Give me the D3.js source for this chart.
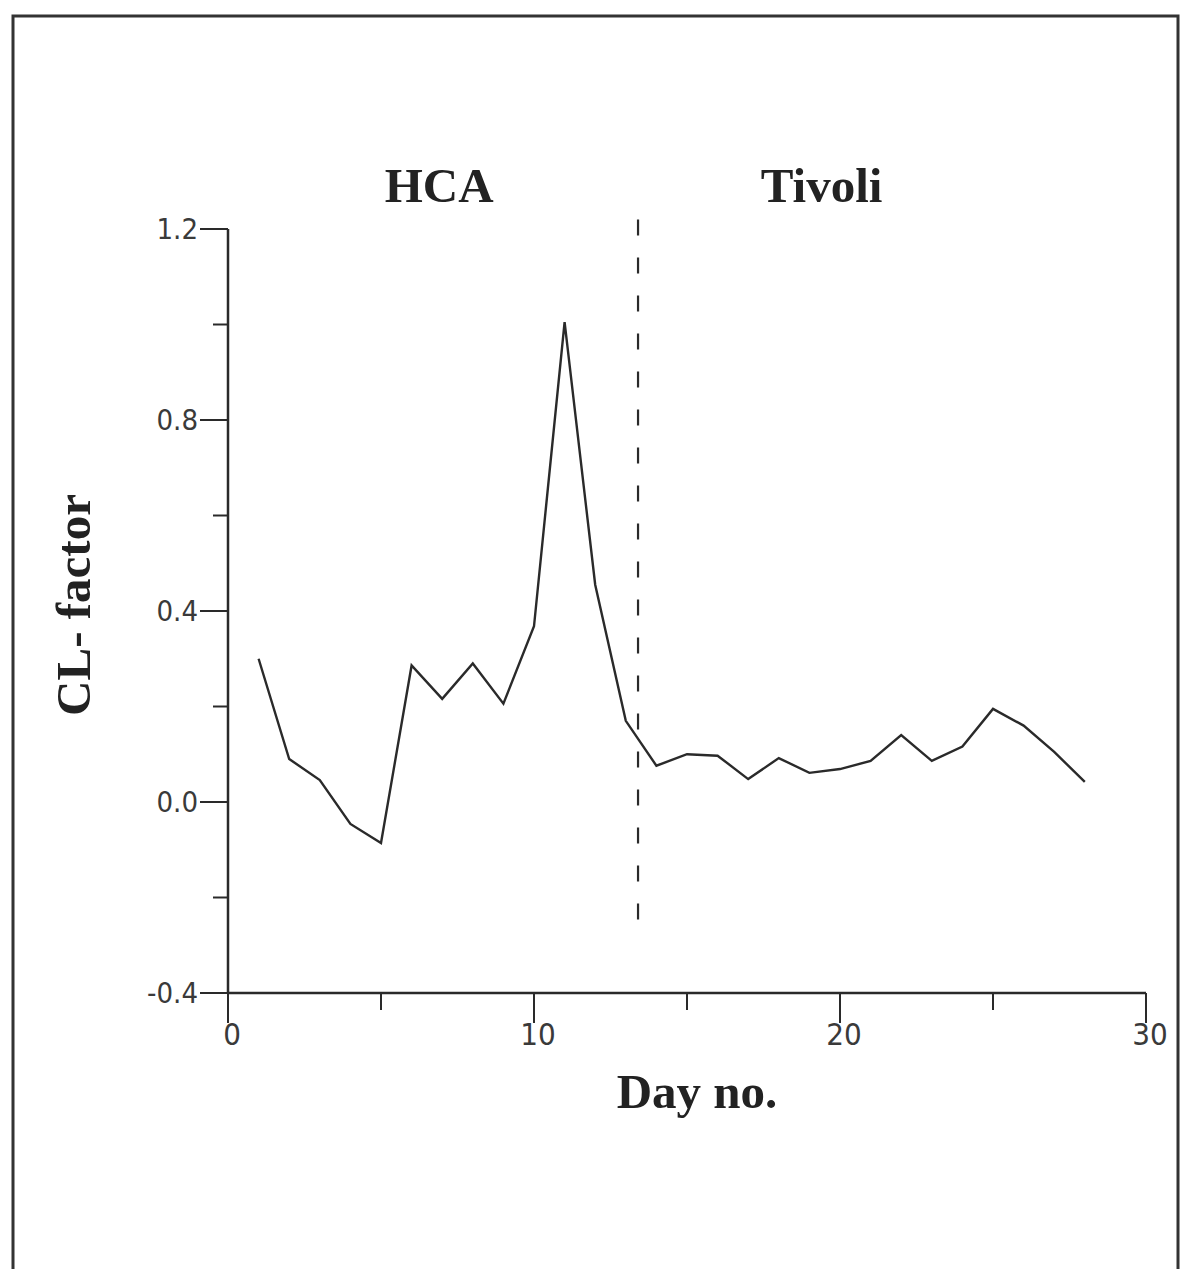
<!DOCTYPE html>
<html>
<head>
<meta charset="utf-8">
<script src="https://cdn.jsdelivr.net/npm/d3@7/dist/d3.min.js"></script>
<style>
  body { margin: 0; background: #fff; }
  .tick-label { font-family: "Liberation Sans Narrow", "DejaVu Sans Condensed", sans-serif; font-stretch: condensed; font-weight: normal; fill: #3a3a3a; }
  .title { font-family: "Liberation Serif", "Times New Roman", serif; font-weight: bold; fill: #222; }
</style>
</head>
<body>
<script>
var width = 1191;
var height = 1269;

// values
var days = d3.range(1, 29);
var clFactor = [0.30, 0.09, 0.046, -0.046, -0.086, 0.286, 0.216, 0.29, 0.206, 0.368,
                1.005, 0.455, 0.17, 0.076, 0.10, 0.097, 0.048, 0.092, 0.061, 0.069,
                0.086, 0.14, 0.086, 0.116, 0.195, 0.16, 0.105, 0.042];
var yTicks = [-0.4, -0.2, 0.0, 0.2, 0.4, 0.6, 0.8, 1.0, 1.2];
var yLabels = [-0.4, 0.0, 0.4, 0.8, 1.2];
var xTicks = [0, 5, 10, 15, 20, 25, 30];
var xLabels = [0, 10, 20, 30];
var splitDay = 13.4;
var splitRange = [-0.26, 1.22];
var groups = ["HCA", "Tivoli"];
var groupX = [6.9, 19.4];

var x = d3.scaleLinear().domain([0, 30]).range([228, 1146]);
var y = d3.scaleLinear().domain([-0.4, 1.2]).range([993, 229]);

var svg = d3.select("body").append("svg")
    .attr("width", width)
    .attr("height", height);

// scanned page border
svg.append("rect")
    .attr("x", 13).attr("y", 16)
    .attr("width", 1165).attr("height", 1260)
    .attr("fill", "none")
    .attr("stroke", "#333")
    .attr("stroke-width", 3);

var ink = "#2a2a2a";

// y axis
var yAxis = svg.append("g").attr("stroke", ink);
yAxis.append("line")
    .attr("x1", x(0)).attr("x2", x(0))
    .attr("y1", y(1.2)).attr("y2", y(-0.4))
    .attr("stroke-width", 2.5);
yTicks.forEach(function(t) {
    var major = yLabels.some(function(l) { return Math.abs(l - t) < 1e-9; });
    yAxis.append("line")
        .attr("x1", x(0) - (major ? 28 : 15)).attr("x2", x(0))
        .attr("y1", y(t)).attr("y2", y(t))
        .attr("stroke-width", 2);
});
svg.selectAll(".ylab").data(yLabels).enter().append("text")
    .attr("class", "tick-label")
    .attr("x", x(0) - 30)
    .attr("y", function(d) { return y(d); })
    .attr("dy", "0.36em")
    .attr("text-anchor", "end")
    .attr("font-size", 29)
    .text(function(d) { return d.toFixed(1); });

// x axis
var xAxis = svg.append("g").attr("stroke", ink);
xAxis.append("line")
    .attr("x1", x(0)).attr("x2", x(30))
    .attr("y1", y(-0.4)).attr("y2", y(-0.4))
    .attr("stroke-width", 2.5);
xTicks.forEach(function(t) {
    var major = xLabels.indexOf(t) >= 0;
    xAxis.append("line")
        .attr("x1", x(t)).attr("x2", x(t))
        .attr("y1", y(-0.4)).attr("y2", y(-0.4) + (major ? 30 : 17))
        .attr("stroke-width", 2);
});
svg.selectAll(".xlab").data(xLabels).enter().append("text")
    .attr("class", "tick-label")
    .attr("x", function(d) { return x(d) + 4; })
    .attr("y", y(-0.4) + 52)
    .attr("text-anchor", "middle")
    .attr("font-size", 31)
    .text(function(d) { return d; });

// divider between periods
svg.append("line")
    .attr("x1", x(splitDay)).attr("x2", x(splitDay))
    .attr("y1", y(splitRange[1])).attr("y2", y(splitRange[0]))
    .attr("stroke", ink)
    .attr("stroke-width", 2.2)
    .attr("stroke-dasharray", "16,22");

// data line
var line = d3.line()
    .x(function(d, i) { return x(days[i]); })
    .y(function(d) { return y(d); });
svg.append("path")
    .datum(clFactor)
    .attr("d", line)
    .attr("fill", "none")
    .attr("stroke", ink)
    .attr("stroke-width", 2.4)
    .attr("stroke-linejoin", "miter");

// titles
svg.selectAll(".group").data(groups).enter().append("text")
    .attr("class", "title")
    .attr("x", function(d, i) { return x(groupX[i]); })
    .attr("y", 202)
    .attr("text-anchor", "middle")
    .attr("font-size", 49)
    .text(function(d) { return d; });

svg.append("text")
    .attr("class", "title")
    .attr("x", 697)
    .attr("y", 1108)
    .attr("text-anchor", "middle")
    .attr("font-size", 49)
    .text("Day no.");

svg.append("text")
    .attr("class", "title")
    .attr("transform", "translate(90,605) rotate(-90)")
    .attr("text-anchor", "middle")
    .attr("font-size", 49)
    .text("CL- factor");
</script>
</body>
</html>
